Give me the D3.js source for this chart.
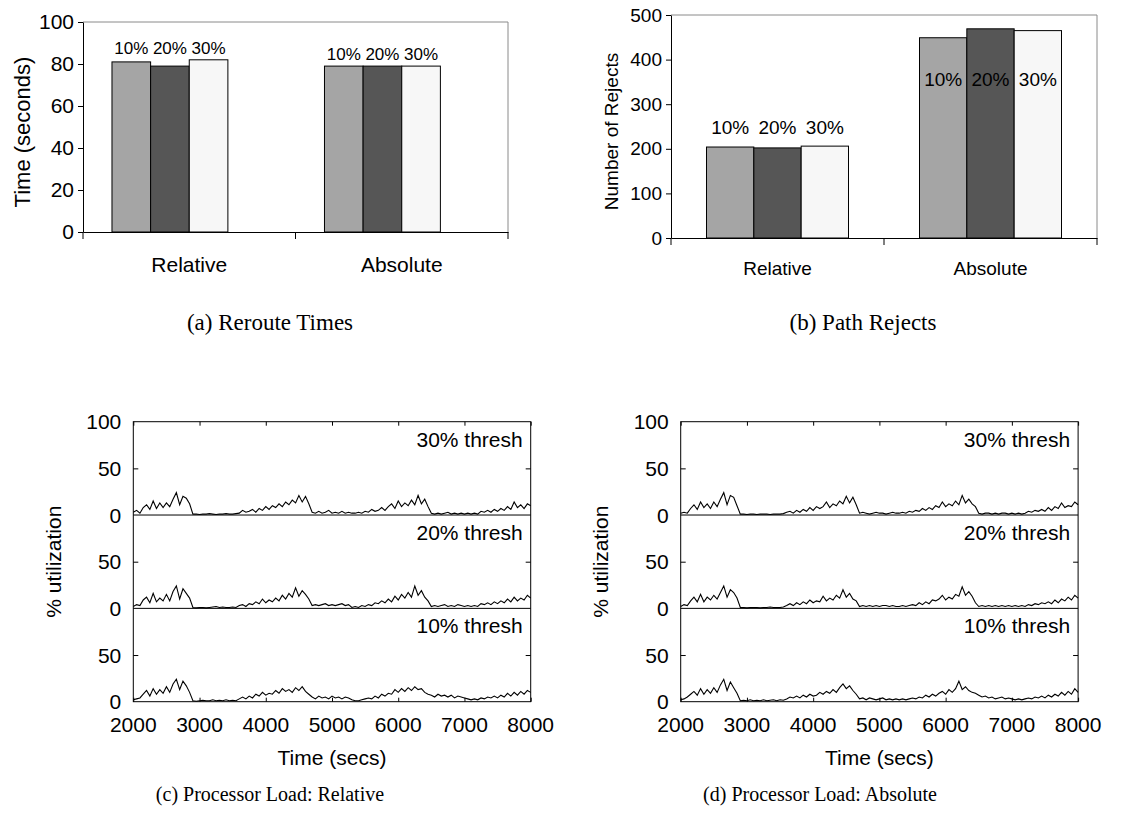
<!DOCTYPE html>
<html>
<head>
<meta charset="utf-8">
<script src="https://cdn.jsdelivr.net/npm/d3@7"></script>
<style>
  body { margin: 0; background: #fff; }
  svg { display: block; font-family: "Liberation Sans", Arial, Helvetica, sans-serif; }
  .caption { font-family: "Liberation Serif", "Times New Roman", serif; }
</style>
</head>
<body>
<svg id="fig" width="1133" height="830"></svg>
<script>
// ---- data ----
var groups = ["Relative", "Absolute"];
var thresholds = ["10%", "20%", "30%"];
var barColors = ["#a5a5a5", "#565656", "#f7f7f7"];

var rerouteTimes = [[81, 79, 82], [79, 79, 79]];
var rerouteTicks = [0, 20, 40, 60, 80, 100];

var pathRejects = [[204, 202, 206], [449, 469, 465]];
var rejectTicks = [0, 100, 200, 300, 400, 500];

var timeTicks = [2000, 3000, 4000, 5000, 6000, 7000, 8000];
var utilTicks = [0, 50, 100];
var sampleStart = 2000, sampleStep = 50;

// processor load, relative thresholds (one value per 50 s)
var relLoad30 = [3,5,2,8,11,6,15,7,13,8,
  13,9,17,24,11,20,18,12,
  1,1,0.5,1,1,1.5,1,0.5,1,1,1.5,1,1,1.5,
  2,5,3,4,6,3,7,5,9,6,10,
  8,12,9,14,11,16,13,21,14,20,12,
  3,2,4,2,3,5,2,3,2,4,2,3,2,2,3,
  2,4,3,6,4,5,8,5,9,
  12,7,15,9,13,10,16,11,21,12,17,9,
  2,1,2,1,2,3,1,2,1,2,1,2,1,2,1,
  4,3,5,3,6,4,7,5,9,6,14,8,11,7,12,10];
var relLoad20 = [2,4,3,9,12,6,16,7,11,8,
  15,8,18,24,10,21,16,11,
  1,0.5,1,1,0.5,1,1.5,2,1,1.5,1,1,1.5,1,
  3,4,2,5,4,7,5,10,6,9,7,
  11,8,14,10,16,12,22,13,19,15,10,
  3,4,3,4,5,3,4,3,4,5,3,4,1,2,1,
  3,2,4,3,6,5,8,6,10,
  7,13,9,15,11,17,12,24,14,19,12,8,
  2,3,2,3,4,2,3,2,4,3,2,3,2,3,2,
  5,4,6,4,7,5,8,6,10,7,12,8,11,9,14,11];
var relLoad10 = [2,3,4,8,12,6,14,8,13,9,
  16,10,19,24,13,22,17,10,
  1,0.5,1,1.5,1,1,2,1,1.5,1,2,1,1.5,1,
  3,5,3,6,4,8,6,10,7,9,8,
  12,9,14,11,13,10,15,12,16,11,8,
  5,3,6,4,5,3,6,4,5,3,5,4,2,1,1,
  2,3,4,3,6,4,8,6,9,
  8,13,10,14,11,15,12,16,13,14,10,8,
  7,5,8,6,7,5,7,4,6,5,4,3,2,3,2,
  4,3,5,4,6,4,7,5,9,6,10,7,11,8,12,10];

// processor load, absolute thresholds
var absLoad30 = [2,3,2,7,11,6,14,8,12,7,
  14,9,17,24,11,21,19,10,
  1,1,0.5,1,1,0.5,1,1,1,0.5,1,1,1,1.5,
  3,4,2,5,3,6,4,8,5,9,7,
  9,14,8,12,10,15,12,20,13,19,11,
  2,3,2,1,2,3,2,2,1,2,3,2,2,3,2,
  4,3,5,4,7,5,8,6,10,
  8,14,9,12,10,15,11,21,13,17,12,9,
  2,1,2,2,1,2,1,2,2,1,2,1,2,1,2,
  4,3,5,4,6,4,8,5,9,7,13,8,10,9,14,11];
var absLoad20 = [2,4,3,8,12,7,15,7,12,9,
  14,10,17,24,12,20,17,11,
  1,1,0.5,1,1,1,0.5,1,1,1.5,1,1,1,1.5,
  3,5,3,6,4,7,5,9,6,8,7,
  13,8,11,9,14,11,20,12,16,10,8,
  2,3,2,3,2,3,2,3,3,2,3,2,2,3,2,
  3,4,3,6,4,7,5,9,8,
  10,14,9,12,10,15,13,23,14,18,13,6,
  2,3,2,3,2,3,2,3,2,3,2,3,2,3,2,
  4,3,5,4,6,5,7,5,9,6,10,8,12,9,14,11];
var absLoad10 = [2,3,5,8,11,7,14,8,13,9,
  15,10,18,24,12,21,15,9,
  1,1.5,1,2,1,1.5,1,2,1,1.5,2,1,2,1.5,
  3,5,4,6,4,7,5,8,6,7,10,
  8,11,9,13,10,15,19,14,17,12,8,
  3,4,2,4,3,2,3,4,2,3,2,3,2,3,2,
  3,4,3,5,4,7,5,8,6,
  9,11,8,13,10,14,22,13,16,12,10,9,
  7,5,6,4,5,3,4,5,3,4,3,2,3,2,3,
  4,3,5,4,6,4,7,5,8,6,10,7,11,8,14,10];

var svg = d3.select("#fig");

// ---- grouped bar panel ----
function drawBars(cfg) {
    var x0 = d3.scaleBand().domain(groups).range([cfg.left, cfg.right]);
    var x1 = d3.scaleBand().domain(d3.range(cfg.slots))
        .range([0, x0.bandwidth()]).paddingInner(0).paddingOuter(0.75);
    var y = d3.scaleLinear().domain([0, d3.max(cfg.ticks)]).range([cfg.bottom, cfg.top]);

    var g = svg.append("g");

    // grey frame top / right
    g.append("path")
        .attr("d", "M" + cfg.left + "," + cfg.top + "H" + cfg.right + "V" + cfg.bottom)
        .attr("fill", "none").attr("stroke", "#8a8a8a").attr("stroke-width", 1);

    var slice = g.selectAll(".slice")
        .data(cfg.values)
        .enter().append("g")
        .attr("transform", function (d, i) { return "translate(" + x0(groups[i]) + ",0)"; });

    slice.selectAll("rect")
        .data(function (d) { return d; })
        .enter().append("rect")
        .attr("x", function (d, i) { return x1(i); })
        .attr("width", x1.bandwidth())
        .attr("y", function (d) { return y(d); })
        .attr("height", function (d) { return cfg.bottom - y(d); })
        .attr("fill", function (d, i) { return barColors[i]; })
        .attr("stroke", "#000").attr("stroke-width", 1);

    slice.selectAll("text")
        .data(function (d) {
            var inside = d3.max(d) > cfg.insideAbove;
            var ly = inside ? y(d3.min(d)) + cfg.insideOffset : y(d3.max(d)) - cfg.labelGap;
            return d.map(function (v, i) { return { v: v, i: i, ly: ly }; });
        })
        .enter().append("text")
        .attr("x", function (d) { return x1(d.i) + x1.bandwidth() / 2; })
        .attr("y", function (d) { return d.ly; })
        .attr("text-anchor", "middle")
        .style("font-size", cfg.labelSize + "px")
        .text(function (d) { return thresholds[d.i]; });

    // y axis
    var ya = g.append("g")
        .attr("transform", "translate(" + cfg.left + ",0)")
        .call(d3.axisLeft(y).tickValues(cfg.ticks).tickSize(5).tickSizeOuter(0).tickPadding(4));
    ya.selectAll("text").style("font-size", cfg.tickSize + "px").attr("fill", "#000");
    ya.selectAll("line, path").attr("stroke", "#000");

    // x axis: labels at centres, ticks at category edges
    var xa = g.append("g")
        .attr("transform", "translate(0," + cfg.bottom + ")")
        .call(d3.axisBottom(x0).tickSize(0).tickPadding(cfg.xPad));
    xa.selectAll("text").style("font-size", cfg.tickSize + "px").attr("fill", "#000");
    xa.select(".domain").attr("stroke", "#000");
    var edges = groups.map(function (c) { return x0(c); }).concat([cfg.right]);
    xa.selectAll(".edge").data(edges).enter().append("line")
        .attr("x1", function (d) { return d; }).attr("x2", function (d) { return d; })
        .attr("y1", 0).attr("y2", 7).attr("stroke", "#000");

    g.append("text")
        .attr("transform", "translate(" + cfg.titleX + "," + ((cfg.top + cfg.bottom) / 2 + 5) + ") rotate(-90)")
        .attr("text-anchor", "middle")
        .attr("dy", "0.35em")
        .style("font-size", cfg.titleSize + "px")
        .text(cfg.title);

    svg.append("text").attr("class", "caption")
        .attr("x", cfg.captionX).attr("y", 330)
        .attr("text-anchor", "middle")
        .style("font-size", "23px")
        .text(cfg.caption);
}

drawBars({
    values: rerouteTimes, ticks: rerouteTicks, slots: 4,
    left: 83, right: 508, top: 22, bottom: 232,
    insideAbove: 1000, insideOffset: 0, labelGap: 6, labelSize: 17,
    tickSize: 21, xPad: 25, title: "Time (seconds)", titleSize: 22, titleX: 22,
    caption: "(a) Reroute Times", captionX: 270
});

drawBars({
    values: pathRejects, ticks: rejectTicks, slots: 3,
    left: 671, right: 1097, top: 15, bottom: 238,
    insideAbove: 400, insideOffset: 48, labelGap: 12, labelSize: 19,
    tickSize: 19, xPad: 24, title: "Number of Rejects", titleSize: 19, titleX: 611,
    caption: "(b) Path Rejects", captionX: 863
});

// ---- stacked processor-load panel ----
function drawLoad(cfg) {
    var top = 421.7, rowH = 93.33, width = 397.4;
    var right = cfg.left + width;
    var bottom = top + rowH * cfg.rows.length;
    var x = d3.scaleLinear().domain([2000, 8000]).range([cfg.left, right]);
    var g = svg.append("g");

    cfg.rows.forEach(function (row, r) {
        var y0 = top + r * rowH;
        var y = d3.scaleLinear().domain([0, 100]).range([y0 + rowH, y0]);

        var line = d3.line()
            .x(function (d, i) { return x(sampleStart + i * sampleStep); })
            .y(function (d) { return y(d); });
        g.append("path").datum(row.values)
            .attr("d", line)
            .attr("fill", "none").attr("stroke", "#000").attr("stroke-width", 1.1);

        // inward ticks, mirrored on both sides
        var yl = g.append("g").attr("transform", "translate(" + cfg.left + ",0)")
            .call(d3.axisRight(y).tickValues([50]).tickSize(5).tickFormat(""));
        yl.select(".domain").remove();
        var yr = g.append("g").attr("transform", "translate(" + right + ",0)")
            .call(d3.axisLeft(y).tickValues([50]).tickSize(5).tickFormat(""));
        yr.select(".domain").remove();

        var labs = r === 0 ? utilTicks : utilTicks.slice(0, 2);
        g.selectAll(null).data(labs).enter().append("text")
            .attr("x", cfg.left - 12).attr("y", function (d) { return y(d); })
            .attr("dy", "0.36em").attr("text-anchor", "end")
            .style("font-size", "21px")
            .text(function (d) { return d; });

        g.append("text")
            .attr("x", right - 8).attr("y", y0 + 25)
            .attr("text-anchor", "end")
            .style("font-size", "21px")
            .text(row.label);

        if (r > 0) {
            g.append("line").attr("x1", cfg.left).attr("x2", right)
                .attr("y1", y0).attr("y2", y0).attr("stroke", "#000");
        }
    });

    // top ticks / bottom axis
    var xt = g.append("g").attr("transform", "translate(0," + top + ")")
        .call(d3.axisBottom(x).tickValues(timeTicks).tickSize(4).tickSizeOuter(0).tickFormat(""));
    xt.select(".domain").remove();
    var xb = g.append("g").attr("transform", "translate(0," + bottom + ")")
        .call(d3.axisTop(x).tickValues(timeTicks).tickSize(4).tickSizeOuter(0).tickFormat(""));
    xb.select(".domain").remove();
    g.selectAll(null).data(timeTicks).enter().append("text")
        .attr("x", function (d) { return x(d); }).attr("y", bottom + 30)
        .attr("text-anchor", "middle")
        .style("font-size", "21px")
        .text(function (d) { return d; });

    g.append("rect")
        .attr("x", cfg.left).attr("y", top)
        .attr("width", width).attr("height", bottom - top)
        .attr("fill", "none").attr("stroke", "#000");

    g.append("text")
        .attr("x", (cfg.left + right) / 2).attr("y", bottom + 63)
        .attr("text-anchor", "middle")
        .style("font-size", "21px")
        .text("Time (secs)");

    g.append("text")
        .attr("transform", "translate(" + (cfg.left - 80) + "," + ((top + bottom) / 2) + ") rotate(-90)")
        .attr("text-anchor", "middle").attr("dy", "0.35em")
        .style("font-size", "21px")
        .text("% utilization");

    svg.append("text").attr("class", "caption")
        .attr("x", cfg.captionX).attr("y", 801)
        .attr("text-anchor", "middle")
        .style("font-size", "20px")
        .text(cfg.caption);
}

drawLoad({
    left: 133.3, captionX: 270, caption: "(c) Processor Load: Relative",
    rows: [
        { label: "30% thresh", values: relLoad30 },
        { label: "20% thresh", values: relLoad20 },
        { label: "10% thresh", values: relLoad10 }
    ]
});

drawLoad({
    left: 680.7, captionX: 820, caption: "(d) Processor Load: Absolute",
    rows: [
        { label: "30% thresh", values: absLoad30 },
        { label: "20% thresh", values: absLoad20 },
        { label: "10% thresh", values: absLoad10 }
    ]
});
</script>
</body>
</html>
